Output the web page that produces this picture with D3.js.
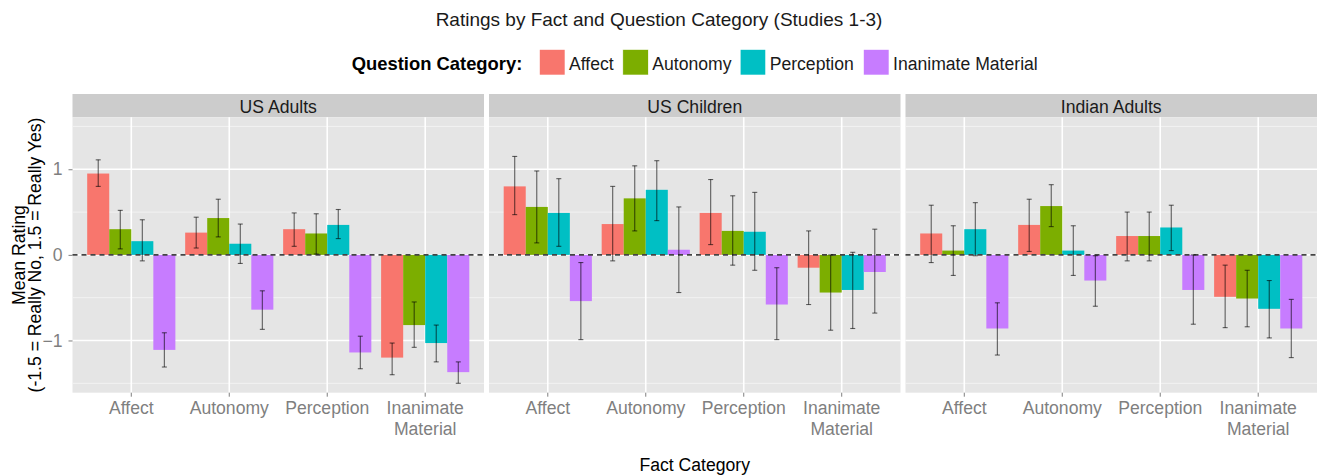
<!DOCTYPE html>
<html>
<head>
<meta charset="utf-8">
<script src="https://cdn.jsdelivr.net/npm/d3@7"></script>
<style>
  html, body { margin: 0; padding: 0; background: #fff; }
  svg { display: block; font-family: "Liberation Sans", Arial, Helvetica, sans-serif; }
</style>
</head>
<body>
<svg id="chart" width="1317" height="476"></svg>
<script>
// ---------- DATA ----------
const groups = ["US Adults", "US Children", "Indian Adults"];
const facts = ["Affect", "Autonomy", "Perception", "Inanimate Material"];
const questions = ["Affect", "Autonomy", "Perception", "Inanimate Material"];
const colors = ["#F8766D", "#7CAE00", "#00BFC4", "#C77CFF"];
const yTicks = [-1, 0, 1];
const yMinorTicks = [-1.5, -0.5, 0.5, 1.5];

// rows = fact category, columns = question category
const usAdultsMean = [[0.95, 0.30, 0.16, -1.11], [0.26, 0.43, 0.13, -0.64], [0.30, 0.25, 0.35, -1.14], [-1.20, -0.82, -1.03, -1.37]];
const usAdultsLow  = [[0.80, 0.07, -0.07, -1.31], [0.08, 0.21, -0.10, -0.87], [0.10, 0.01, 0.19, -1.33], [-1.40, -1.08, -1.25, -1.50]];
const usAdultsHigh = [[1.11, 0.52, 0.41, -0.91], [0.44, 0.65, 0.36, -0.42], [0.49, 0.48, 0.53, -0.95], [-1.03, -0.55, -0.82, -1.25]];

const usChildrenMean = [[0.80, 0.56, 0.49, -0.54], [0.36, 0.66, 0.76, 0.06], [0.49, 0.28, 0.27, -0.58], [-0.15, -0.44, -0.41, -0.20]];
const usChildrenLow  = [[0.47, 0.14, 0.10, -0.99], [-0.07, 0.28, 0.40, -0.44], [0.12, -0.12, -0.18, -0.99], [-0.58, -0.88, -0.86, -0.68]];
const usChildrenHigh = [[1.15, 0.98, 0.89, -0.09], [0.80, 1.04, 1.10, 0.56], [0.88, 0.69, 0.73, -0.15], [0.28, 0.00, 0.03, 0.30]];

const indianAdultsMean = [[0.25, 0.05, 0.30, -0.86], [0.35, 0.57, 0.05, -0.30], [0.22, 0.22, 0.32, -0.41], [-0.49, -0.51, -0.63, -0.86]];
const indianAdultsLow  = [[-0.09, -0.24, -0.01, -1.17], [0.04, 0.33, -0.24, -0.60], [-0.07, -0.07, 0.05, -0.81], [-0.85, -0.84, -0.97, -1.20]];
const indianAdultsHigh = [[0.58, 0.34, 0.61, -0.56], [0.65, 0.82, 0.34, -0.01], [0.50, 0.50, 0.58, 0.00], [-0.12, -0.18, -0.30, -0.52]];

const panelData = [
  { mean: usAdultsMean, low: usAdultsLow, high: usAdultsHigh },
  { mean: usChildrenMean, low: usChildrenLow, high: usChildrenHigh },
  { mean: indianAdultsMean, low: indianAdultsLow, high: indianAdultsHigh }
];

// ---------- LAYOUT ----------
const svg = d3.select("#chart");
const panelLeft = 72.5, panelRight = 1317, panelGap = 5;
const stripTop = 94, stripH = 23.3;
const plotTop = stripTop + stripH, plotBottom = 392.7;
const panelW = (panelRight - panelLeft - 2 * panelGap) / 3;
const fs = 17.6;
const grey50 = "#7F7F7F";

const y = d3.scaleLinear().domain([-1.61, 1.607]).range([plotBottom, plotTop]);
const x = d3.scaleBand().domain(facts).range([0, panelW]).paddingInner(0.1).paddingOuter(0.15);
const xq = d3.scaleBand().domain(questions).range([0, x.bandwidth()]).padding(0);
const color = d3.scaleOrdinal().domain(questions).range(colors);

// Title
svg.append("text").attr("x", 659).attr("y", 25.5).attr("text-anchor", "middle")
  .attr("font-size", 19).attr("fill", "#1a1a1a")
  .text("Ratings by Fact and Question Category (Studies 1-3)");

// Legend
const legend = svg.append("g");
legend.append("text").attr("x", 351.7).attr("y", 69.5).attr("font-size", 18.4)
  .attr("font-weight", "bold").attr("fill", "#000").text("Question Category:");
const keyX = [539.5, 622.8, 740.2, 863.5];
questions.forEach((q, i) => {
  legend.append("rect").attr("x", keyX[i]).attr("y", 49.5).attr("width", 25.5).attr("height", 25.5)
    .attr("fill", color(q)).attr("stroke", "#fff").attr("stroke-width", 0.6);
  legend.append("text").attr("x", keyX[i] + 29.5).attr("y", 69.5).attr("font-size", fs)
    .attr("fill", "#1a1a1a").text(q);
});

// Panels
groups.forEach((g, gi) => {
  const px = panelLeft + gi * (panelW + panelGap);
  const pg = svg.append("g").attr("transform", `translate(${px},0)`);
  const d = panelData[gi];

  // strip
  pg.append("rect").attr("x", 0).attr("y", stripTop).attr("width", panelW).attr("height", stripH).attr("fill", "#CCCCCC");
  pg.append("text").attr("x", panelW / 2).attr("y", stripTop + 18.6).attr("text-anchor", "middle")
    .attr("font-size", fs).attr("fill", "#1a1a1a").text(g);

  // background
  pg.append("rect").attr("x", 0).attr("y", plotTop).attr("width", panelW).attr("height", plotBottom - plotTop).attr("fill", "#E5E5E5");

  // grid
  pg.selectAll(".minor").data(yMinorTicks).join("line")
    .attr("x1", 0).attr("x2", panelW).attr("y1", v => y(v)).attr("y2", v => y(v))
    .attr("stroke", "#F2F2F2").attr("stroke-width", 1);
  pg.selectAll(".major").data(yTicks).join("line")
    .attr("x1", 0).attr("x2", panelW).attr("y1", v => y(v)).attr("y2", v => y(v))
    .attr("stroke", "#FFFFFF").attr("stroke-width", 1.6);
  pg.selectAll(".vgrid").data(facts).join("line")
    .attr("x1", f => x(f) + x.bandwidth() / 2).attr("x2", f => x(f) + x.bandwidth() / 2)
    .attr("y1", plotTop).attr("y2", plotBottom)
    .attr("stroke", "#FFFFFF").attr("stroke-width", 1.6);

  // bars
  const rows = [];
  facts.forEach((f, fi) => questions.forEach((q, qi) => {
    rows.push({ f, q, m: d.mean[fi][qi], lo: d.low[fi][qi], hi: d.high[fi][qi] });
  }));
  pg.selectAll(".bar").data(rows).join("rect")
    .attr("x", r => x(r.f) + xq(r.q))
    .attr("width", xq.bandwidth())
    .attr("y", r => y(Math.max(0, r.m)))
    .attr("height", r => Math.abs(y(r.m) - y(0)))
    .attr("fill", r => color(r.q));

  // zero line
  pg.append("line").attr("x1", 0).attr("x2", panelW).attr("y1", y(0)).attr("y2", y(0))
    .attr("stroke", "#444").attr("stroke-width", 1.6).attr("stroke-dasharray", "5,4");

  // error bars
  const eb = pg.selectAll(".eb").data(rows).join("g")
    .attr("transform", r => `translate(${x(r.f) + xq(r.q) + xq.bandwidth() / 2},0)`)
    .attr("stroke", "rgba(0,0,0,0.6)").attr("stroke-width", 1.1);
  eb.append("line").attr("y1", r => y(r.lo)).attr("y2", r => y(r.hi));
  eb.append("line").attr("x1", -2.5).attr("x2", 2.5).attr("y1", r => y(r.lo)).attr("y2", r => y(r.lo));
  eb.append("line").attr("x1", -2.5).attr("x2", 2.5).attr("y1", r => y(r.hi)).attr("y2", r => y(r.hi));

  // x axis
  const xa = pg.append("g").attr("transform", `translate(0,${plotBottom})`)
    .call(d3.axisBottom(x).tickSize(4).tickSizeOuter(0));
  xa.select(".domain").remove();
  xa.selectAll(".tick line").attr("stroke", grey50).attr("stroke-width", 1);
  xa.selectAll(".tick text").each(function(t) {
    const el = d3.select(this);
    el.text(null).attr("dy", null).attr("y", 21.5).attr("font-size", fs).attr("fill", grey50)
      .attr("font-family", "Liberation Sans, Arial, Helvetica, sans-serif");
    const parts = t === "Inanimate Material" ? ["Inanimate", "Material"] : [t];
    parts.forEach((p, i) => el.append("tspan").attr("x", 0).attr("y", 21.5 + i * 21).text(p));
  });

  // y axis on first panel
  if (gi === 0) {
    const ya = pg.append("g").call(d3.axisLeft(y).tickValues(yTicks).tickSize(4).tickPadding(6).tickFormat(d3.format("d")));
    ya.select(".domain").remove();
    ya.selectAll(".tick line").attr("stroke", grey50).attr("stroke-width", 1);
    ya.selectAll(".tick text").attr("font-size", fs).attr("fill", grey50)
      .attr("font-family", "Liberation Sans, Arial, Helvetica, sans-serif");
  }
});

// Axis titles
svg.append("text").attr("x", (panelLeft + panelRight) / 2).attr("y", 471).attr("text-anchor", "middle")
  .attr("font-size", fs).attr("fill", "#000").text("Fact Category");
const yt = svg.append("text").attr("transform", `translate(0,${(plotTop + plotBottom) / 2}) rotate(-90)`)
  .attr("text-anchor", "middle").attr("font-size", fs).attr("fill", "#000");
yt.append("tspan").attr("x", 0).attr("y", 25).text("Mean Rating");
yt.append("tspan").attr("x", 0).attr("y", 41).text("(-1.5 = Really No, 1.5 = Really Yes)");
</script>
</body>
</html>
